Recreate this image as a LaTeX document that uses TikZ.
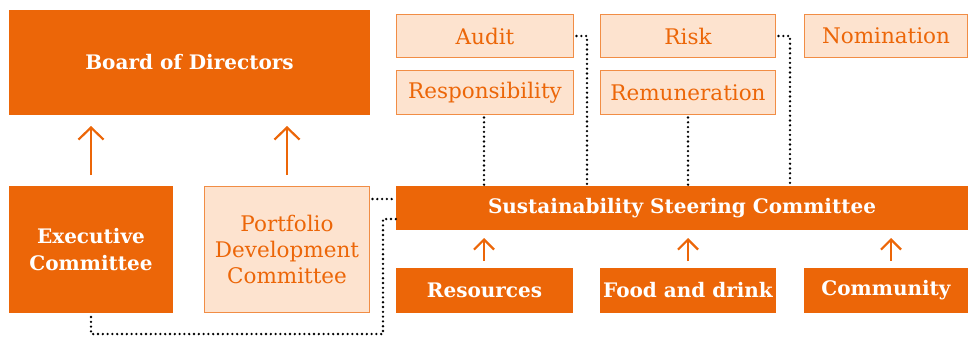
\documentclass[tikz,border=0pt]{standalone}
\usepackage{fontspec}
\setmainfont{DejaVu Serif}
\usetikzlibrary{arrows.meta}
\definecolor{dorange}{HTML}{EC6608}
\definecolor{lfill}{HTML}{FDE3CF}
\definecolor{lborder}{HTML}{F18D45}
\begin{document}
\begin{tikzpicture}[x=1pt,y=-1pt,
  base/.style={anchor=north west,inner sep=0pt,outer sep=0pt,align=center},
  dark/.style={base,fill=dorange,text=white,font=\bfseries\fontsize{20}{27}\selectfont},
  light/.style={base,fill=lfill,draw=lborder,line width=1.3pt,text=dorange,font=\fontsize{21.5}{26}\selectfont},
  bigarrow/.style={draw=dorange,line width=2.2pt,-{Straight Barb[length=12pt,width=25pt,line width=2.2pt]}},
  smallarrow/.style={draw=dorange,line width=2.2pt,-{Straight Barb[length=10pt,width=20pt,line width=2.2pt]}},
  dots/.style={draw=black,line width=2.6pt,line cap=round,dash pattern=on 0pt off 4.8pt}]
\useasboundingbox (0,0) rectangle (969,338);
\node[dark,minimum width=361pt,minimum height=105pt] (board) at (9,10) {Board of Directors};
\node[dark,minimum width=164pt,minimum height=127pt] (exec) at (9,186) {Executive\\Committee};
\node[light,minimum width=165pt,minimum height=126pt] (port) at (204.5,186.5) {Portfolio\\Development\\Committee};
\node[dark,minimum width=572pt,minimum height=44pt] (ssc) at (396,186) {Sustainability Steering Committee};
\node[light,minimum width=177pt,minimum height=43pt] (audit) at (396.5,14.5) {Audit};
\node[light,minimum width=175pt,minimum height=43pt] (risk) at (600.5,14.5) {Risk};
\node[light,minimum width=163pt,minimum height=43pt] (nom) at (804.5,14.5) {Nomination};
\node[light,minimum width=177pt,minimum height=44pt] (resp) at (396.5,70.5) {Responsibility};
\node[light,minimum width=175pt,minimum height=44pt] (remu) at (600.5,70.5) {Remuneration};
\node[dark,minimum width=177pt,minimum height=45pt] (res) at (396,268) {Resources};
\node[dark,minimum width=176pt,minimum height=45pt] (food) at (600,268) {Food and drink};
\node[dark,minimum width=164pt,minimum height=45pt] (comm) at (804,268) {Community};
% arrows
\draw[bigarrow] (exec.north -| 91,0) ++(0,-11) -- (91,126);
\draw[bigarrow] (287,175) -- (287,126);
\draw[smallarrow] (res.north -| 484,0) ++(0,-7) -- (484,238);
\draw[smallarrow] (food.north -| 688,0) ++(0,-7) -- (688,238);
\draw[smallarrow] (comm.north -| 891,0) ++(0,-7) -- (891,238);
% dotted connectors
\coordinate (a1) at (587,36);
\coordinate (r1) at (790,36);
\draw[dots] (audit.east |- a1) ++(3,0) -- (a1) -- (a1 |- ssc.north);
\draw[dots] (risk.east |- r1) ++(3,0) -- (r1) -- (r1 |- ssc.north);
\draw[dots] (resp.south -| 484,0) ++(0,3) -- (484,186);
\draw[dots] (remu.south -| 688,0) ++(0,3) -- (688,186);
\draw[dots] (port.east |- 0,199) ++(3,0) -- (ssc.west |- 0,199);
\coordinate (e1) at (91,334);
\coordinate (e2) at (383,334);
\coordinate (e3) at (383,219);
\draw[dots] (exec.south -| e1) ++(0,4) -- (e1) -- (e2) -- (e3) -- (ssc.west |- e3);
\end{tikzpicture}
\end{document}
